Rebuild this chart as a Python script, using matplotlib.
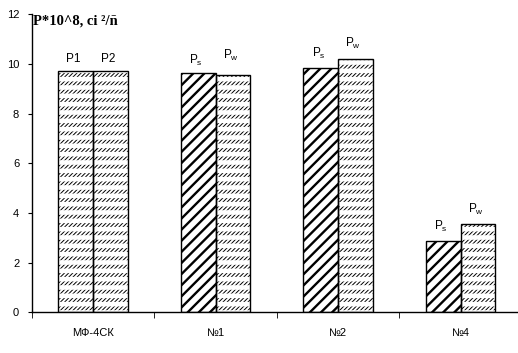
import numpy as np
import matplotlib
matplotlib.use("Agg")
import matplotlib.pyplot as plt

groups = ['МФ-4СК', '№1', '№2', '№4']
ps = [9.7, 9.62, 9.82, 2.86]
pw = [9.7, 9.54, 10.22, 3.54]
left_labels = ['P1', r'P$\mathregular{_s}$', r'P$\mathregular{_s}$', r'P$\mathregular{_s}$']
right_labels = ['P2', r'P$\mathregular{_w}$', r'P$\mathregular{_w}$', r'P$\mathregular{_w}$']
yticks = [0, 2, 4, 6, 8, 10, 12]

# label offsets above bar tops (points)
left_dy = [7.0, 6.5, 8.4, 8.4]
right_dy = [7.0, 12.2, 8.4, 8.4]

plt.rcParams['font.family'] = ['Liberation Sans', 'DejaVu Sans']
plt.rcParams['font.size'] = 8

fig = plt.figure(figsize=(5.18, 3.53), dpi=100)
ax = fig.add_axes([0.0612, 0.1153, 0.9465, 0.8442])

x = np.arange(len(groups))
w = 0.283
xl = x - w / 2
xr = x + w / 2


def set_hlw(bars, lw):
    for b in bars:
        if hasattr(b, 'set_hatch_linewidth'):
            b.set_hatch_linewidth(lw)


# fine dashed hatch: right bars everywhere, left bar only in first group
fine_x = list(xr) + [xl[0]]
fine_h = list(pw) + [ps[0]]
with plt.rc_context({'hatch.linewidth': 0.7}):
    b1 = ax.bar(fine_x, fine_h, w, color='white', edgecolor='black', hatch='////////', linewidth=0)
set_hlw(b1, 0.7)
with plt.rc_context({'hatch.linewidth': 3.3}):
    b2 = ax.bar(fine_x, fine_h, w, fill=False, edgecolor='white', hatch='--', linewidth=0)
set_hlw(b2, 3.3)

# bold hatch for Ps
with plt.rc_context({'hatch.linewidth': 1.7}):
    b3 = ax.bar(xl[1:], ps[1:], w, color='white', edgecolor='black', hatch='///', linewidth=0)
set_hlw(b3, 1.7)

# outlines
ax.bar(xl, ps, w, fill=False, edgecolor='black', linewidth=1.0)
ax.bar(xr, pw, w, fill=False, edgecolor='black', linewidth=1.0)

for i in range(len(groups)):
    ax.annotate(left_labels[i], (xl[i], ps[i]), xytext=(-1.5, left_dy[i]), textcoords='offset points',
                ha='center', va='baseline', fontsize=8.5)
    ax.annotate(right_labels[i], (xr[i], pw[i]), xytext=(-1.5, right_dy[i]), textcoords='offset points',
                ha='center', va='baseline', fontsize=8.5)

ax.set_xlim(-0.5, 3.5)
ax.set_ylim(0, 12)
ax.set_yticks(yticks)
ax.set_xticks(x)
ax.set_xticklabels(groups)
ax.set_xticks(np.arange(-0.5, 4, 1), minor=True)
ax.tick_params(axis='x', which='major', length=0, pad=11)
ax.tick_params(axis='x', which='minor', length=4, direction='out')
ax.tick_params(axis='y', length=3, direction='out', pad=6)
for s in ['top', 'right']:
    ax.spines[s].set_visible(False)
for s in ['left', 'bottom']:
    ax.spines[s].set_linewidth(1.0)

fig.text(33 / 518, 1 - 15 / 353, 'P*10^8, ci ²/ñ', family=['Liberation Serif', 'DejaVu Serif'],
         fontweight='bold', fontsize=10.5, ha='left', va='top')

fig.savefig('out.png', dpi=100)
